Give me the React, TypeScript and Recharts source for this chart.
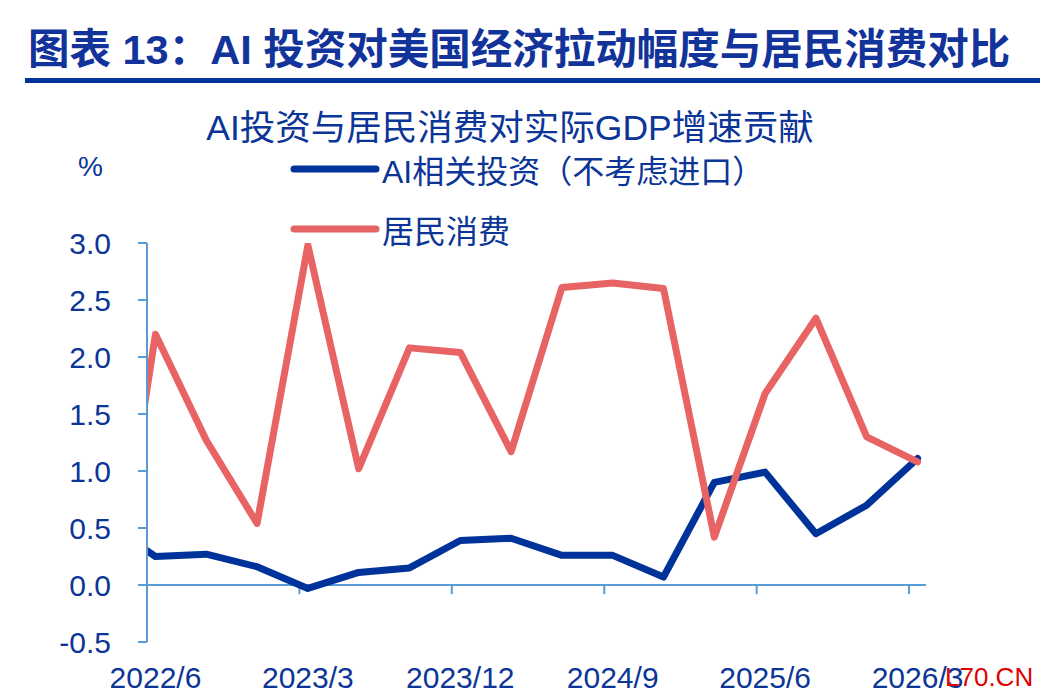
import { LineChart, Line, XAxis, YAxis, ReferenceLine, Legend } from 'recharts';

// quarterly data, first quarter sits left of the axis and is clipped
const quarters = ['2022/3', '2022/6', '2022/9', '2022/12', '2023/3', '2023/6', '2023/9', '2023/12', '2024/3', '2024/6', '2024/9', '2024/12', '2025/3', '2025/6', '2025/9', '2025/12', '2026/3'];
const aiInvestment = [0.55, 0.25, 0.27, 0.16, -0.03, 0.11, 0.15, 0.39, 0.41, 0.26, 0.26, 0.07, 0.90, 0.99, 0.45, 0.70, 1.11];
const consumption = [-0.7, 2.20, 1.27, 0.54, 2.98, 1.02, 2.08, 2.04, 1.17, 2.61, 2.65, 2.60, 0.42, 1.68, 2.34, 1.30, 1.08];
const xTickLabels = ['2022/6', '2023/3', '2023/12', '2024/9', '2025/6', '2026/3'];
const yTicks = [-0.5, 0, 0.5, 1.0, 1.5, 2.0, 2.5, 3.0];

const BLUE = '#003399';
const RED = '#E86363';
const AXIS = '#5B9BD5';
const TEXT = '#0B3596';
const FONT = "'Liberation Sans', 'Noto Sans CJK SC', sans-serif";

// months since year 0, used as the numeric x scale
const toMonth = (s: string) => {
    const [y, m] = s.split('/').map(Number);
    return y * 12 + m;
};
// points are plotted mid-month, tick marks at month start
const pointX = (s: string) => toMonth(s) + 0.5;

const data = quarters.map((q, i) => ({
    x: pointX(q),
    ai: aiInvestment[i],
    pce: consumption[i],
}));

const labelByX: Record<number, string> = {};
xTickLabels.forEach(l => { labelByX[pointX(l)] = l; });

const renderLegend = (props: any) => (
    <div>
        {(props.payload || []).map((item: any) => (
            <div key={item.value} style={{ display: 'flex', alignItems: 'center', height: 60 }}>
                <svg width={90} height={12}>
                    <line x1={4} y1={6} x2={86} y2={6} stroke={item.color} strokeWidth={7} strokeLinecap="round" />
                </svg>
                <span style={{ marginLeft: 2, fontSize: 32, color: TEXT, fontFamily: FONT, whiteSpace: 'nowrap' }}>{item.value}</span>
            </div>
        ))}
    </div>
);

export default function App() {
    return (
        <div style={{ position: 'absolute', left: 0, top: 0, width: 1040, height: 696, background: '#fff', overflow: 'hidden', fontFamily: FONT }}>
            {/* header */}
            <div style={{ position: 'absolute', left: 28, top: 29, fontSize: 41.5, lineHeight: '42px', fontWeight: 700, color: '#12339A', whiteSpace: 'nowrap' }}>
                图表 13：AI 投资对美国经济拉动幅度与居民消费对比
            </div>
            <div style={{ position: 'absolute', left: 25, right: 0, top: 78, height: 5, background: BLUE }} />
            <div style={{ position: 'absolute', left: 0, width: 1020, top: 110, fontSize: 35.5, lineHeight: '36px', color: TEXT, textAlign: 'center', whiteSpace: 'nowrap' }}>
                AI投资与居民消费对实际GDP增速贡献
            </div>
            <div style={{ position: 'absolute', left: 78, top: 153, fontSize: 28, lineHeight: '28px', color: TEXT }}>%</div>

            <LineChart width={1040} height={696} data={data} margin={{ top: 243, right: 114, left: 87, bottom: 0 }} style={{ position: 'absolute', left: 0, top: 0 }}>
                <XAxis
                    dataKey="x"
                    type="number"
                    domain={[toMonth('2022/6'), toMonth('2026/3') + 1]}
                    allowDataOverflow
                    ticks={xTickLabels.map(pointX)}
                    tickFormatter={(v: number) => labelByX[v] ?? ''}
                    axisLine={false}
                    tickLine={false}
                    tickSize={0}
                    tickMargin={25}
                    height={54}
                    interval={0}
                    tick={{ fontSize: 30, fill: TEXT, fontFamily: FONT }}
                />
                <YAxis
                    type="number"
                    domain={[-0.5, 3.0]}
                    allowDataOverflow
                    ticks={yTicks}
                    interval={0}
                    width={60}
                    tickFormatter={(v: number) => v.toFixed(1)}
                    axisLine={{ stroke: AXIS, strokeWidth: 2 }}
                    tickLine={{ stroke: AXIS, strokeWidth: 2 }}
                    tickSize={9}
                    tickMargin={27}
                    tick={{ fontSize: 30, fill: TEXT, fontFamily: FONT }}
                />
                <ReferenceLine y={0} stroke={AXIS} strokeWidth={2} />
                {xTickLabels.map(l => (
                    <ReferenceLine key={l} segment={[{ x: toMonth(l), y: 0 }, { x: toMonth(l), y: -0.08 }]} stroke={AXIS} strokeWidth={2} />
                ))}
                <Legend
                    layout="horizontal"
                    verticalAlign="middle"
                    align="center"
                    content={renderLegend}
                    wrapperStyle={{ left: 290, top: 139, width: 560, height: 120 }}
                />
                <Line type="linear" dataKey="ai" name="AI相关投资（不考虑进口）" stroke={BLUE} strokeWidth={7} dot={false} strokeLinejoin="round" strokeLinecap="round" isAnimationActive={false} />
                <Line type="linear" dataKey="pce" name="居民消费" stroke={RED} strokeWidth={7} dot={false} strokeLinejoin="round" strokeLinecap="round" isAnimationActive={false} />
            </LineChart>

            <div style={{ position: 'absolute', left: 945, top: 664, fontSize: 26, lineHeight: '26px', color: '#E00000', fontFamily: FONT }}>L70.CN</div>
        </div>
    );
}
